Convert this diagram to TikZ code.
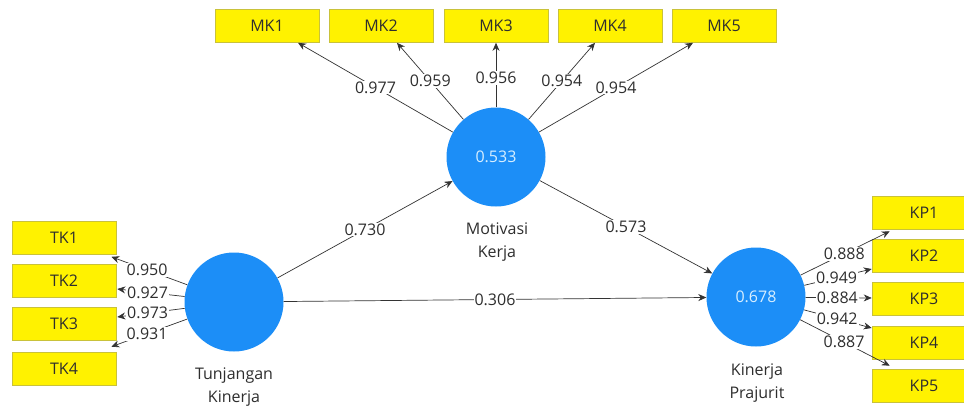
\documentclass[tikz,border=0pt]{standalone}
\usepackage{fontspec}
\setmainfont{Open Sans}
\usetikzlibrary{arrows.meta}
\definecolor{lvblue}{HTML}{1C8EF7}
\definecolor{lvtext}{HTML}{D6EEFF}
\definecolor{boxborder}{HTML}{C9C23A}
\definecolor{linegray}{HTML}{333333}
\definecolor{txt}{HTML}{2E2E2E}
\begin{document}
\begin{tikzpicture}[x=1pt,y=-1pt,
  lv/.style={circle,fill=lvblue,minimum size=99pt,inner sep=0pt,text=lvtext,font=\fontsize{16}{19}\selectfont},
  ind/.style={rectangle,fill=yellow,draw=boxborder,line width=0.6pt,minimum width=104pt,minimum height=33pt,inner sep=0pt,text=txt,font=\fontsize{16}{19}\selectfont},
  conn/.style={draw=linegray,line width=0.7pt,-{Stealth[length=8pt,width=7pt]}},
  lbl/.style={fill=white,inner sep=1pt,text=txt,font=\fontsize{16}{19}\selectfont},
  captxt/.style={align=center,text=txt,font=\fontsize{16}{23}\selectfont}]
\clip (0,0) rectangle (964,407);
\fill[white] (0,0) rectangle (964,407);
% latent variables
\node[lv] (tk) at (234,302) {};
\node[lv] (mk) at (496,157) {0.533};
\node[lv] (kp) at (756,297) {0.678};
\node[captxt] (tkc) at (234,387) {Tunjangan\\Kinerja};
\node[captxt] (mkc) at (497,242) {Motivasi\\Kerja};
\node[captxt] (kpc) at (757,383) {Kinerja\\Prajurit};
% indicators
\node[ind] (MK1) at (267,26) {MK1};
\node[ind] (MK2) at (381,26) {MK2};
\node[ind] (MK3) at (496,26) {MK3};
\node[ind] (MK4) at (610,26) {MK4};
\node[ind] (MK5) at (724,26) {MK5};
\node[ind] (TK1) at (64,238) {TK1};
\node[ind] (TK2) at (64,280.5) {TK2};
\node[ind] (TK3) at (64,324) {TK3};
\node[ind] (TK4) at (64,368.5) {TK4};
\node[ind] (KP1) at (924,212.5) {KP1};
\node[ind] (KP2) at (924,255.5) {KP2};
\node[ind] (KP3) at (924,299) {KP3};
\node[ind] (KP4) at (924,343) {KP4};
\node[ind] (KP5) at (924,385.5) {KP5};
% outer loadings MK
\draw[conn] (mk) -- ([xshift=31pt]MK1.south) node[lbl,midway] {0.977};
\draw[conn] (mk) -- ([xshift=16pt]MK2.south) node[lbl,midway] {0.959};
\draw[conn] (mk) -- (MK3.south) node[lbl,pos=0.45] {0.956};
\draw[conn] (mk) -- ([xshift=-15pt]MK4.south) node[lbl,midway] {0.954};
\draw[conn] (mk) -- ([xshift=-31pt]MK5.south) node[lbl,midway] {0.954};
% outer loadings TK
\draw[conn] (tk) -- ([xshift=-5pt,yshift=-2pt]TK1.south east) node[lbl,pos=0.53] {0.950};
\draw[conn] (tk) -- ([xshift=1pt,yshift=-8.5pt]TK2.east) node[lbl,pos=0.55] {0.927};
\draw[conn] (tk) -- ([xshift=1pt,yshift=7pt]TK3.east) node[lbl,pos=0.55] {0.973};
\draw[conn] (tk) -- ([xshift=-5pt,yshift=5pt]TK4.north east) node[lbl,pos=0.53] {0.931};
% outer loadings KP
\draw[conn] (kp) -- ([xshift=18pt,yshift=-2pt]KP1.south west) node[lbl,pos=0.49] {0.888};
\draw[conn] (kp) -- ([yshift=-13.5pt]KP2.west) node[lbl,pos=0.48] {0.949};
\draw[conn] (kp) -- ([yshift=1pt]KP3.west) node[lbl,pos=0.48] {0.884};
\draw[conn] (kp) -- ([yshift=15pt]KP4.west) node[lbl,pos=0.49] {0.942};
\draw[conn] (kp) -- ([xshift=18pt,yshift=3pt]KP5.north west) node[lbl,pos=0.49] {0.887};
% structural paths
\draw[conn] (tk) -- (mk) node[lbl,midway] {0.730};
\draw[conn] (mk) -- (kp) node[lbl,midway] {0.573};
\draw[conn] (tk) -- (kp) node[lbl,midway] {0.306};
\end{tikzpicture}
\end{document}
